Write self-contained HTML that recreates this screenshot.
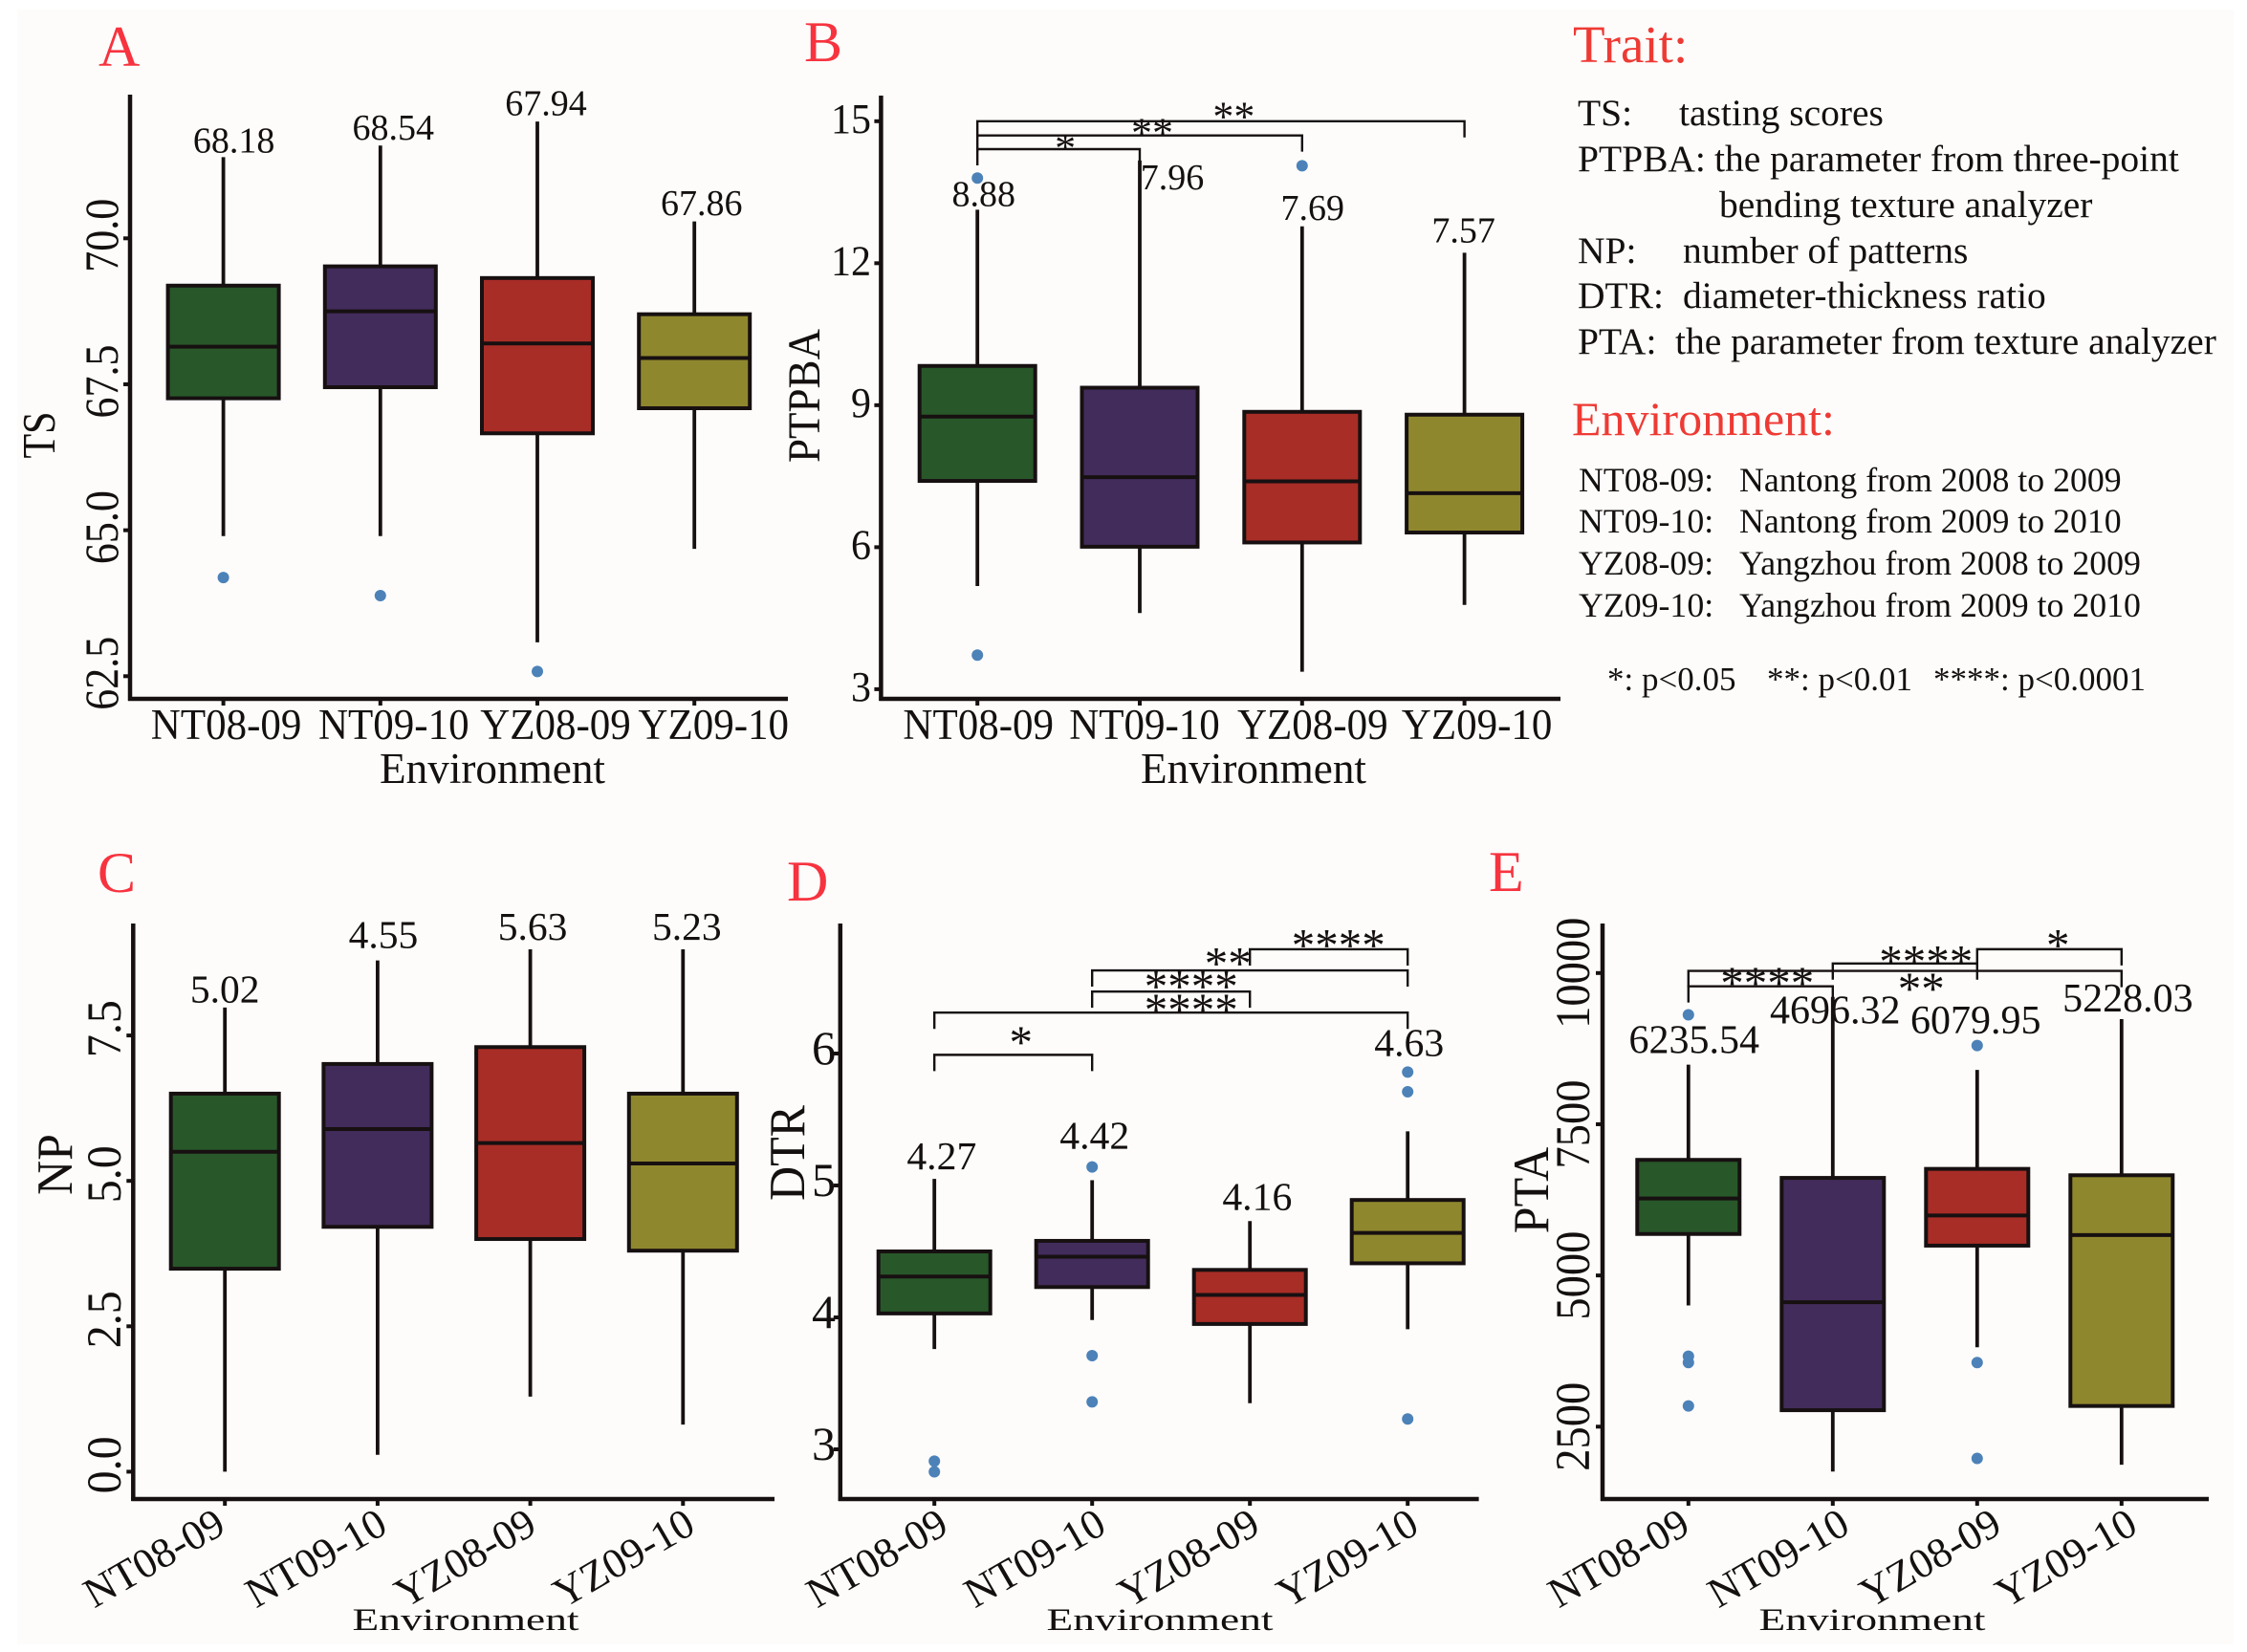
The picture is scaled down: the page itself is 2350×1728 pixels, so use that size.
<!DOCTYPE html>
<html lang="en">
<head>
<meta charset="utf-8">
<title>Boxplots of traits across environments</title>
<style>
html,body{margin:0;padding:0;background:#ffffff;}
svg{display:block;}
text{font-family:"Liberation Serif",serif;fill:#14100f;}
.red{fill:#ee3a34;}
.letter{fill:#f7333f;font-size:60px;}
.k{font-size:39.5px;}
.e{font-size:35.8px;}
.p{font-size:35px;}
</style>
</head>
<body>
<svg id="figure" xmlns="http://www.w3.org/2000/svg" width="2350" height="1728" viewBox="0 0 2350 1728">
  <rect x="0" y="0" width="2350" height="1728" fill="#ffffff"/>
  <rect x="18" y="10" width="2318" height="1710" fill="#fdfcfb"/>
  <text class="letter" x="103" y="69">A</text>
  <text class="letter" x="841" y="64">B</text>
  <text class="letter" x="102" y="933">C</text>
  <text class="letter" x="823" y="942">D</text>
  <text class="letter" x="1557" y="932">E</text>

  <g>
    <text class="red" x="1645" y="65" font-size="55">Trait:</text>
    <text class="k" x="1650" y="131">TS:</text>
    <text class="k" x="1756" y="131">tasting scores</text>
    <text class="k" x="1650" y="179">PTPBA:</text>
    <text class="k" x="1793" y="179">the parameter from three-point</text>
    <text class="k" x="1798" y="227">bending texture analyzer</text>
    <text class="k" x="1650" y="275">NP:</text>
    <text class="k" x="1760" y="275">number of patterns</text>
    <text class="k" x="1650" y="322">DTR:</text>
    <text class="k" x="1760" y="322">diameter-thickness ratio</text>
    <text class="k" x="1650" y="370">PTA:</text>
    <text class="k" x="1752" y="370">the parameter from texture analyzer</text>
  </g>
  <g>
    <text class="red" x="1644" y="455" font-size="50">Environment:</text>
    <text class="e" x="1651" y="514">NT08-09:</text>
    <text class="e" x="1819" y="514">Nantong from 2008 to 2009</text>
    <text class="e" x="1651" y="557">NT09-10:</text>
    <text class="e" x="1819" y="557">Nantong from 2009 to 2010</text>
    <text class="e" x="1651" y="601">YZ08-09:</text>
    <text class="e" x="1819" y="601">Yangzhou from 2008 to 2009</text>
    <text class="e" x="1651" y="645">YZ09-10:</text>
    <text class="e" x="1819" y="645">Yangzhou from 2009 to 2010</text>
  </g>
  <g>
    <text class="p" x="1681" y="722">*: p&lt;0.05</text>
    <text class="p" x="1848" y="722">**: p&lt;0.01</text>
    <text class="p" x="2022" y="722">****: p&lt;0.0001</text>
  </g>
</svg>
<script>
// ---------- shared data ----------
const categories = ['NT08-09', 'NT09-10', 'YZ08-09', 'YZ09-10'];
const boxColors = ['#28572a', '#422c5b', '#a82d26', '#8f872d'];

// ---------- panel A: TS ----------
const tsTicks = [70, 67.5, 65, 62.5];
const tsTickLabels = ['70.0', '67.5', '65.0', '62.5'];
const tsQ3 = [69.19, 69.52, 69.32, 68.70];
const tsMedian = [68.145, 68.75, 68.2, 67.95];
const tsQ1 = [67.26, 67.45, 66.66, 67.09];
const tsUpper = [71.39, 71.59, 72.0, 70.29];
const tsLower = [64.90, 64.90, 63.08, 64.68];
const tsOutliers = [[64.19], [63.88], [62.58], []];
const tsMeans = ['68.18', '68.54', '67.94', '67.86'];
const tsBrackets = [];

// ---------- panel B: PTPBA ----------
const ptpbaTicks = [15, 12, 9, 6, 3];
const ptpbaTickLabels = ['15', '12', '9', '6', '3'];
const ptpbaQ3 = [9.83, 9.37, 8.86, 8.80];
const ptpbaMedian = [8.76, 7.48, 7.39, 7.14];
const ptpbaQ1 = [7.40, 6.01, 6.10, 6.31];
const ptpbaUpper = [13.13, 14.17, 12.78, 12.22];
const ptpbaLower = [5.18, 4.61, 3.37, 4.78];
const ptpbaOutliers = [[13.80, 3.72], [], [14.06], []];
const ptpbaMeans = ['8.88', '7.96', '7.69', '7.57'];
const ptpbaBrackets = [[0, 1, 14.41, '*'], [0, 2, 14.70, '**'], [0, 3, 15.0, '**']];

// ---------- panel C: NP ----------
const npTicks = [7.5, 5, 2.5, 0];
const npTickLabels = ['7.5', '5.0', '2.5', '0.0'];
const npQ3 = [6.50, 7.01, 7.30, 6.50];
const npMedian = [5.50, 5.89, 5.65, 5.30];
const npQ1 = [3.49, 4.21, 4.0, 3.80];
const npUpper = [7.98, 8.79, 8.98, 8.98];
const npLower = [0, 0.29, 1.29, 0.81];
const npOutliers = [[], [], [], []];
const npMeans = ['5.02', '4.55', '5.63', '5.23'];
const npBrackets = [];

// ---------- panel D: DTR ----------
const dtrTicks = [6, 5, 4, 3];
const dtrTickLabels = ['6', '5', '4', '3'];
const dtrQ3 = [4.50, 4.58, 4.36, 4.89];
const dtrMedian = [4.31, 4.46, 4.17, 4.64];
const dtrQ1 = [4.03, 4.23, 3.95, 4.41];
const dtrUpper = [5.05, 5.04, 4.73, 5.41];
const dtrLower = [3.76, 3.98, 3.35, 3.91];
const dtrOutliers = [[2.91, 2.83], [5.14, 3.71, 3.36], [], [5.86, 5.71, 3.23]];
const dtrMeans = ['4.27', '4.42', '4.16', '4.63'];
const dtrBrackets = [[0, 1, 5.99, '*'], [0, 3, 6.31, '****'], [1, 2, 6.47, '****'], [1, 3, 6.63, '**'], [2, 3, 6.79, '****']];

// ---------- panel E: PTA ----------
const ptaTicks = [10000, 7500, 5000, 2500];
const ptaTickLabels = ['10000', '7500', '5000', '2500'];
const ptaQ3 = [6911, 6613, 6762, 6657];
const ptaMedian = [6272, 4557, 5992, 5668];
const ptaQ1 = [5686, 2772, 5493, 2842];
const ptaUpper = [8486, 9606, 8399, 9239];
const ptaLower = [4504, 1757, 3813, 1870];
const ptaOutliers = [[9309, 3664, 3559, 2842], [], [8801, 3559, 1975], []];
const ptaMeans = ['6235.54', '4696.32', '6079.95', '5228.03'];
const ptaBrackets = [[0, 1, 9781, '****'], [0, 3, 10035, '**'], [1, 2, 10158, '****'], [2, 3, 10394, '*']];

// ---------- layout (pixels and styling only, no data) ----------
const panels = [
  { id: 'ts', title: 'TS', ticks: tsTicks, tickLabels: tsTickLabels, q3: tsQ3, med: tsMedian, q1: tsQ1, up: tsUpper, lo: tsLower, out: tsOutliers, means: tsMeans, brackets: tsBrackets,
    axisX: 136, axisTop: 99, axisY: 731, axisEnd: 824, tickTop: 249.3, tickBottom: 707.3, catX0: 233.6, catStep: 164.2, boxW: 116,
    meanSize: 38, meanDx: [11, 13.5, 9, 7.6], meanDy: [-5, -6, -6.5, -6.5],
    tickRot: true, tickSize: 44, tickAt: 123, tickNudge: -3, tickSy: 1.13,
    titleSize: 42, titleSy: 1.15, titleX: 57, titleY: 455,
    catSize: 43, catSy: 1.05, catRot: false, catY: 773, catDx: [3, 14, 19, 20],
    envSize: 45.2, envX: 515, envY: 819, envSy: 1,
    starSize: 44, starDx: [], starDy: [] },
  { id: 'ptpba', title: 'PTPBA', ticks: ptpbaTicks, tickLabels: ptpbaTickLabels, q3: ptpbaQ3, med: ptpbaMedian, q1: ptpbaQ1, up: ptpbaUpper, lo: ptpbaLower, out: ptpbaOutliers, means: ptpbaMeans, brackets: ptpbaBrackets,
    axisX: 921.4, axisTop: 100, axisY: 731, axisEnd: 1632, tickTop: 126.8, tickBottom: 720.9, catX0: 1022.2, catStep: 169.8, boxW: 121,
    meanSize: 38, meanDx: [6.5, 34, 11, -1], meanDy: [-4, 30, -6.5, -11],
    tickRot: false, tickSize: 42, tickAt: 911, tickNudge: 12, tickSy: 1.05,
    titleSize: 45, titleSy: 1.05, titleX: 857, titleY: 414,
    catSize: 43, catSy: 1.05, catRot: false, catY: 773, catDx: [1, 5, 11, 13],
    envSize: 45.2, envX: 1311, envY: 819, envSy: 1,
    starSize: 44, starDx: [7, 13, 13.5], starDy: [-7, -9, -11] },
  { id: 'np', title: 'NP', ticks: npTicks, tickLabels: npTickLabels, q3: npQ3, med: npMedian, q1: npQ1, up: npUpper, lo: npLower, out: npOutliers, means: npMeans, brackets: npBrackets,
    axisX: 139.3, axisTop: 966, axisY: 1568, axisEnd: 810, tickTop: 1083.1, tickBottom: 1539.4, catX0: 235.2, catStep: 159.7, boxW: 113,
    meanSize: 41.5, meanDx: [0, 6, 2.5, 4], meanDy: [-5.5, -13, -10, -10],
    tickRot: true, tickSize: 48, tickAt: 126, tickNudge: -7, tickSy: 1.05,
    titleSize: 50, titleSy: 1.05, titleX: 75, titleY: 1218,
    catSize: 44, catSy: 1, catRot: true, catY: 1602, catDx: [3, 12.5, 9, 15],
    envSize: 45.4, envX: 487, envY: 1705, envSy: 0.72,
    starSize: 49, starDx: [], starDy: [] },
  { id: 'dtr', title: 'DTR', ticks: dtrTicks, tickLabels: dtrTickLabels, q3: dtrQ3, med: dtrMedian, q1: dtrQ1, up: dtrUpper, lo: dtrLower, out: dtrOutliers, means: dtrMeans, brackets: dtrBrackets,
    axisX: 878.8, axisTop: 966, axisY: 1568, axisEnd: 1546.6, tickTop: 1102, tickBottom: 1516, catX0: 977.2, catStep: 165, boxW: 117,
    meanSize: 41.7, meanDx: [7.6, 2.5, 7.6, 1.5], meanDy: [-10, -33, -12, -79],
    tickRot: false, tickSize: 50, tickAt: 874, tickNudge: 11, tickSy: 1,
    titleSize: 50, titleSy: 1.05, titleX: 841, titleY: 1206,
    catSize: 44, catSy: 1, catRot: true, catY: 1602, catDx: [17, 17, 13, 14],
    envSize: 45.4, envX: 1213, envY: 1705, envSy: 0.72,
    starSize: 49, starDx: [8, 21, 21, -23, 10], starDy: [-20, -10, -12, -14, -11] },
  { id: 'pta', title: 'PTA', ticks: ptaTicks, tickLabels: ptaTickLabels, q3: ptaQ3, med: ptaMedian, q1: ptaQ1, up: ptaUpper, lo: ptaLower, out: ptaOutliers, means: ptaMeans, brackets: ptaBrackets,
    axisX: 1676, axisTop: 966, axisY: 1568, axisEnd: 2310, tickTop: 1017.8, tickBottom: 1492.3, catX0: 1765.8, catStep: 151, boxW: 107,
    meanSize: 42, meanDx: [6, 2.5, -1.5, 6.6], meanDy: [-12, 28, -38, -8],
    tickRot: true, tickSize: 46.5, tickAt: 1662, tickNudge: 0, tickSy: 1.1,
    titleSize: 50, titleSy: 1.05, titleX: 1619, titleY: 1245,
    catSize: 44, catSy: 1, catRot: true, catY: 1602, catDx: [4, 20, 28, 19],
    envSize: 45.4, envX: 1958, envY: 1705, envSy: 0.72,
    starSize: 49, starDx: [7, 17, 22, 9], starDy: [-10, 12, -9, -11] }
];

const INK = '#171011';
const DOT = '#4c82b8';
const NS = 'http://www.w3.org/2000/svg';
const figure = document.getElementById('figure');

function make(tag, attrs) {
  const el = document.createElementNS(NS, tag);
  for (const k in attrs) el.setAttribute(k, attrs[k]);
  return el;
}
function makeLine(x1, y1, x2, y2, w) {
  return make('line', { x1: x1, y1: y1, x2: x2, y2: y2, stroke: INK, 'stroke-width': w });
}
function makeText(str, x, y, size, anchor, rotate, sy) {
  const el = make('text', {
    'font-size': size,
    'text-anchor': anchor,
    transform: 'translate(' + x + ' ' + y + ') rotate(' + (rotate || 0) + ') scale(1 ' + (sy || 1) + ')'
  });
  el.textContent = str;
  return el;
}

function drawPanel(p) {
  const g = make('g', {});
  
  
  figure.appendChild(g);

  // axis functions
  const v0 = p.ticks[0];
  const v1 = p.ticks[p.ticks.length - 1];
  const y = function (v) { return p.tickTop + (v - v0) * (p.tickBottom - p.tickTop) / (v1 - v0); };
  const x = function (i) { return p.catX0 + i * p.catStep; };

  categories.forEach(function (cat, i) {
    const cx = x(i);

    const whisker = makeLine(cx, y(p.up[i]), cx, y(p.lo[i]), 3.8);
    
    
    g.appendChild(whisker);

    const box = make('rect', {
      x: cx - p.boxW / 2, y: y(p.q3[i]), width: p.boxW, height: y(p.q1[i]) - y(p.q3[i]),
      fill: boxColors[i], stroke: INK, 'stroke-width': 4
    });
    
    
    g.appendChild(box);

    const median = makeLine(cx - p.boxW / 2, y(p.med[i]), cx + p.boxW / 2, y(p.med[i]), 4);
    
    
    g.appendChild(median);

    p.out[i].forEach(function (v) {
      const dot = make('circle', { cx: cx, cy: y(v), r: 6, fill: DOT });
      
      
      g.appendChild(dot);
    });

    const mean = makeText(p.means[i], cx + p.meanDx[i], y(p.up[i]) + p.meanDy[i], p.meanSize, 'middle');
    
    
    g.appendChild(mean);

    const xTick = makeLine(cx, p.axisY, cx, p.axisY + 7, 4);
    
    
    g.appendChild(xTick);

    const catLabel = p.catRot
      ? makeText(cat, cx + p.catDx[i], p.catY, p.catSize, 'end', -30, p.catSy)
      : makeText(cat, cx + p.catDx[i], p.catY, p.catSize, 'middle', 0, p.catSy);
    
    
    g.appendChild(catLabel);
  });

  p.brackets.forEach(function (b, j) {
    const by = y(b[2]);
    const bx1 = x(b[0]);
    const bx2 = x(b[1]);
    const bracket = make('path', {
      d: 'M' + bx1 + ' ' + (by + 17) + 'V' + by + 'H' + bx2 + 'V' + (by + 17),
      fill: 'none', stroke: INK, 'stroke-width': 2.4
    });
    
    
    g.appendChild(bracket);

    const stars = makeText(b[3], (bx1 + bx2) / 2 + p.starDx[j], by + p.starDy[j] + 0.47 * p.starSize, p.starSize, 'middle');
    
    
    g.appendChild(stars);
  });

  p.ticks.forEach(function (v, i) {
    const yTick = makeLine(p.axisX - 7, y(v), p.axisX, y(v), 4);
    
    
    g.appendChild(yTick);

    const tl = p.tickRot
      ? makeText(p.tickLabels[i], p.tickAt, y(v) + p.tickNudge, p.tickSize, 'middle', -90, p.tickSy)
      : makeText(p.tickLabels[i], p.tickAt, y(v) + p.tickNudge, p.tickSize, 'end', 0, p.tickSy);
    
    
    g.appendChild(tl);
  });

  const yAxis = makeLine(p.axisX, p.axisTop, p.axisX, p.axisY + 2, 4.5);
  
  
  g.appendChild(yAxis);

  const xAxis = makeLine(p.axisX - 2, p.axisY, p.axisEnd, p.axisY, 4.5);
  
  
  g.appendChild(xAxis);

  const yTitle = makeText(p.title, p.titleX, p.titleY, p.titleSize, 'middle', -90, p.titleSy);
  
  
  g.appendChild(yTitle);

  const xTitle = makeText('Environment', p.envX, p.envY, p.envSize, 'middle', 0, p.envSy);
  
  
  g.appendChild(xTitle);
}

panels.forEach(drawPanel);
</script>
</body>
</html>
